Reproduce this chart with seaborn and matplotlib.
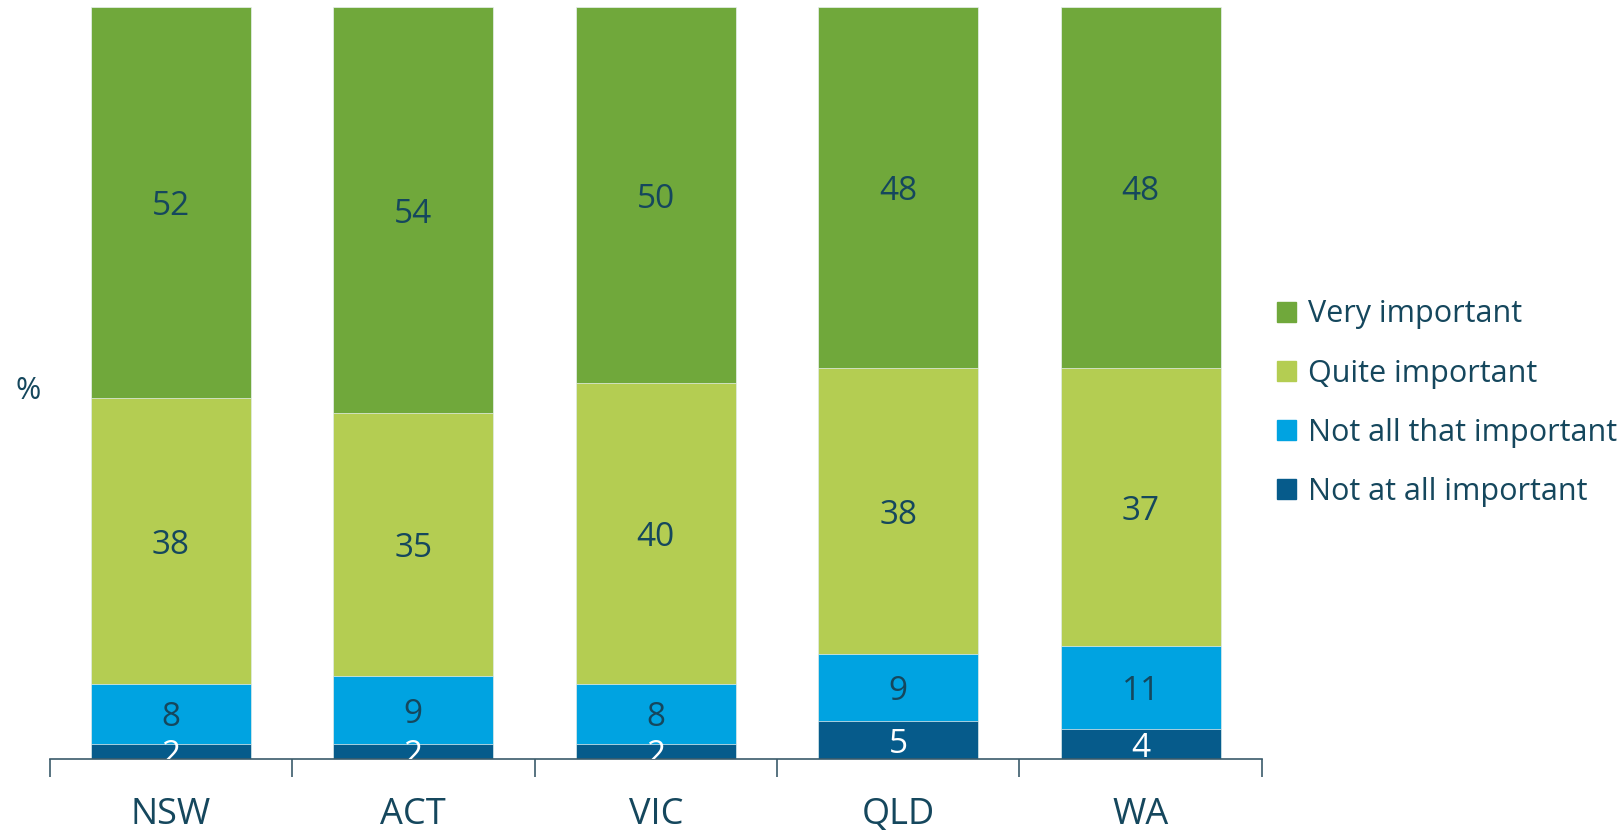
import matplotlib
matplotlib.use("Agg")
import matplotlib.pyplot as plt
import matplotlib.patches as mpatches
import numpy as np
import pandas as pd
import seaborn as sns

# data (percent)
states = ["NSW", "ACT", "VIC", "QLD", "WA"]
not_at_all = [2, 2, 2, 5, 4]
not_all_that = [8, 9, 8, 9, 11]
quite = [38, 35, 40, 38, 37]
very = [52, 54, 50, 48, 48]

series_names = ["Not at all important", "Not all that important",
                "Quite important", "Very important"]
series_vals = [not_at_all, not_all_that, quite, very]
colors = ["#065b8b", "#00a3e1", "#b4cd52", "#70a83b"]
label_colors = ["white", "#15475d", "#15475d", "#15475d"]
text_col = "#15475d"

sns.set_theme(style="white")
plt.rcParams['font.family'] = ['Open Sans', 'DejaVu Sans']

df = pd.DataFrame(dict(zip(series_names, series_vals)), index=states)
cum = df.cumsum(axis=1)

fig = plt.figure(figsize=(16.2, 8.31), dpi=100)
ax = fig.add_axes([0.0306, 0.0866, 0.7484, 0.9044])

# stacked bars: draw cumulative totals from the top series down
for name, col in reversed(list(zip(series_names, colors))):
    sns.barplot(x=states, y=cum[name].values, color=col, width=0.66,
                saturation=1, edgecolor="#e8f0f0", linewidth=0.5, ax=ax)

# value labels in the middle of each segment
for name, lc in zip(series_names, label_colors):
    for i, st in enumerate(states):
        v = df.loc[st, name]
        mid = cum.loc[st, name] - v / 2
        ax.text(i, mid, f"{v}", ha="center", va="center_baseline",
                fontsize=24, color=lc, clip_on=True)

ax.set_ylim(0, 100)
ax.set_xlim(-0.5, 4.5)
ax.set_yticks([])
for s in ["top", "right", "left"]:
    ax.spines[s].set_visible(False)
ax.spines["bottom"].set_color("#3b5b6b")
ax.spines["bottom"].set_linewidth(1.2)

ax.set_xticks(range(len(states)))
ax.set_xticklabels(states, fontsize=26, color=text_col)
ax.tick_params(axis="x", which="major", length=0, pad=27)
ax.set_xticks(np.arange(-0.5, 5, 1), minor=True)
ax.tick_params(axis="x", which="minor", length=13, width=1.2,
               color="#3b5b6b", bottom=True)

ax.set_ylabel("%", rotation=0, fontsize=22, color=text_col,
              ha="center", va="center")
ax.yaxis.set_label_coords(-0.018, 0.49)

handles = [mpatches.Patch(color=c, label=n)
           for n, c in reversed(list(zip(series_names, colors)))]
fig.legend(handles=handles, loc="center left", bbox_to_anchor=(0.788, 0.515),
           frameon=False, fontsize=22, labelcolor=text_col,
           handlelength=0.62, handleheight=0.62, handletextpad=0.4,
           labelspacing=0.95, borderpad=0, borderaxespad=0)

fig.savefig("out.png", dpi=100)
